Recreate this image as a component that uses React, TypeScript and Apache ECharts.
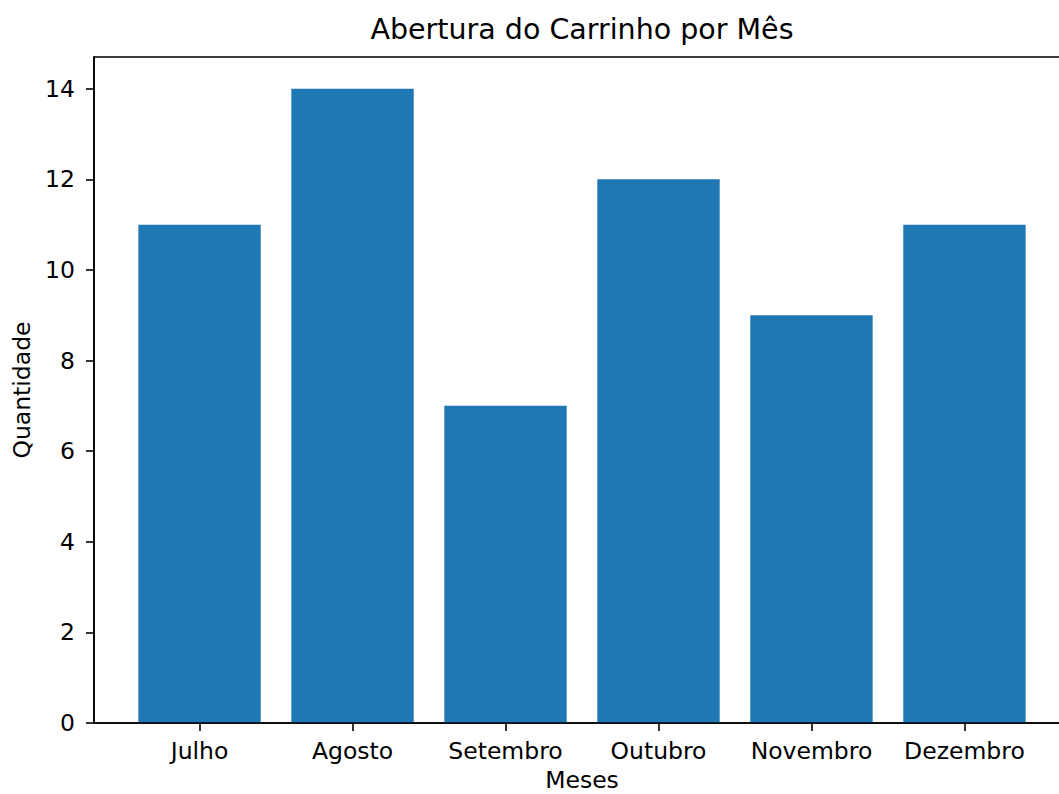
import React, { useEffect, useRef } from "react";
import * as echarts from "echarts";

const months = ["Julho", "Agosto", "Setembro", "Outubro", "Novembro", "Dezembro"];
const values = [11, 14, 7, 12, 9, 11];
const yTicks = [0, 2, 4, 6, 8, 10, 12, 14];
const title = "Abertura do Carrinho por Mês";
const xName = "Meses";
const yName = "Quantidade";

const FONT = "DejaVu Sans";

export default function App() {
  const ref = useRef<HTMLDivElement>(null);
  useEffect(() => {
    const chart = echarts.init(ref.current!, null, { renderer: "svg" });
    const gridLeft = 94;
    const gridWidth = 976;
    const gridTop = 57;
    const gridHeight = 666;
    const xMin = -0.69;
    const xMax = 5.69;
    const barWidth = (0.8 * gridWidth) / (xMax - xMin);
    chart.setOption({
      animation: false,
      backgroundColor: "#ffffff",
      textStyle: { fontFamily: FONT },
      grid: {
        left: gridLeft,
        top: gridTop,
        width: gridWidth,
        height: gridHeight,
        containLabel: false,
        outerBoundsMode: "none",
        show: true,
        borderColor: "#000000",
        borderWidth: 1.6,
        backgroundColor: "transparent",
      },
      graphic: [
        {
          type: "text",
          x: gridLeft + gridWidth / 2,
          y: 29,
          style: {
            text: title,
            font: `28.5px '${FONT}'`,
            fill: "#000000",
            align: "center",
            verticalAlign: "middle",
          },
        },
      ],
      xAxis: {
        type: "value",
        min: xMin,
        max: xMax,
        z: 5,
        name: xName,
        nameLocation: "middle",
        nameGap: 47,
        nameTextStyle: { fontFamily: FONT, fontSize: 23.5, lineHeight: 19, color: "#000000" },
        axisLine: { show: true, onZero: false, lineStyle: { color: "#000000", width: 1.6 } },
        axisTick: {
          show: true,
          length: 8,
          lineStyle: { color: "#000000", width: 1.6 },
          customValues: months.map((_, i) => i),
        },
        axisLabel: {
          show: true,
          margin: 16,
          fontFamily: FONT,
          fontSize: 23.5,
          color: "#000000",
          customValues: months.map((_, i) => i),
          formatter: (v: number) => months[Math.round(v)] ?? "",
        },
        splitLine: { show: false },
      },
      yAxis: {
        type: "value",
        min: 0,
        max: 14.7,
        z: 5,
        name: yName,
        nameLocation: "middle",
        nameGap: 60,
        nameRotate: 90,
        nameTextStyle: { fontFamily: FONT, fontSize: 23.5, color: "#000000" },
        axisLine: { show: true, onZero: false, lineStyle: { color: "#000000", width: 1.6 } },
        axisTick: {
          show: true,
          length: 8,
          lineStyle: { color: "#000000", width: 1.6 },
          customValues: yTicks,
        },
        axisLabel: {
          show: true,
          margin: 19,
          fontFamily: FONT,
          fontSize: 23.5,
          color: "#000000",
          customValues: yTicks,
        },
        splitLine: { show: false },
      },
      series: [
        {
          type: "bar",
          data: values.map((v, i) => [i, v]),
          barWidth: barWidth,
          itemStyle: { color: "#1f77b4" },
        },
      ],
    });
    return () => chart.dispose();
  }, []);
  return (
    <div
      ref={ref}
      style={{ position: "fixed", left: 0, top: 0, width: 1059, height: 794 }}
    />
  );
}
